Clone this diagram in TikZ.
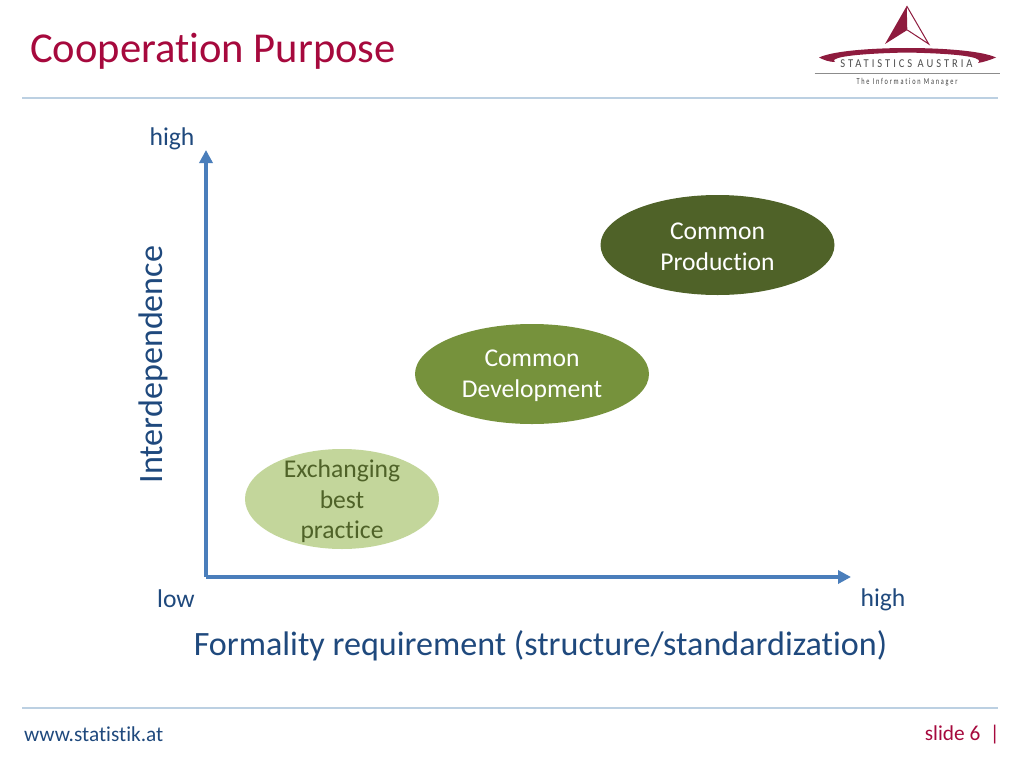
\documentclass[tikz,border=0pt]{standalone}
\usepackage{fontspec}
\setmainfont[Ligatures=NoCommon]{Carlito}
\newfontfamily\logofont[LetterSpace=28,Ligatures=NoCommon]{Carlito}
\usetikzlibrary{shapes.geometric,arrows.meta}
\definecolor{titlered}{HTML}{A6093D}
\definecolor{logored}{HTML}{8E1B3E}
\definecolor{ruleblue}{HTML}{BCD0E2}
\definecolor{axisblue}{HTML}{4A7EBB}
\definecolor{textblue}{HTML}{1F497D}
\definecolor{lightgreen}{HTML}{C3D69B}
\definecolor{midgreen}{HTML}{76923C}
\definecolor{darkgreen}{HTML}{4F6228}
\newcommand{\fsz}[1]{\fontsize{#1}{#1}\selectfont}
\tikzset{
  blob/.style={ellipse,inner sep=0pt,minimum width=234pt,minimum height=100pt,align=center,font=\fontsize{25.6}{30.5}\selectfont,text height=51pt},
  axislabel/.style={text=textblue,inner sep=0pt,font=\fsz{25.6}},
  axisline/.style={draw=axisblue,line width=4.2pt,-{Triangle[length=13pt,width=13pt]}},
  rulebar/.style={draw=ruleblue,line width=1.6pt}
}
\begin{document}
\begin{tikzpicture}[x=1pt,y=-1pt]
\useasboundingbox (0,0) rectangle (1024,768);
% Title and rules
\node (title) [anchor=west,inner sep=0pt,text=titlered,font=\fsz{42.6}] at (30,51.5) {Cooperation Purpose};
\draw[rulebar] (22,98) -- (998,98);
\draw[rulebar] (22,708) -- (998,708);

% Logo
\fill[logored] (906.7,6) -- (885,44) -- (907.3,30) -- cycle;
\draw[logored,line width=1pt,line join=miter] (906.7,6) -- (928.7,44) -- (907.3,30);
\fill[logored] (819,57.5) .. controls (835,50) and (880,48) .. (907,48)
  .. controls (935,48) and (980,50) .. (996,57.5)
  .. controls (990,60) and (984,62) .. (978,63)
  .. controls (983,59) and (975,54) .. (907,52.5)
  .. controls (840,54) and (830,59) .. (835,62)
  .. controls (829,62) and (824,60) .. (819,57.5) -- cycle;
\node (logoname) [inner sep=0pt,text=black!70,xscale=0.88,font=\logofont\fsz{12}] at (906.5,64) {STATISTICS AUSTRIA};
\draw[black!45,line width=0.7pt] (814.7,73.5) -- (1000,73.5);
\node (logoclaim) [inner sep=0pt,text=black!75,xscale=0.7,font=\logofont\fsz{9}] at (907,82) {The Information Manager};

% Axes
\coordinate (origin) at (206,577);
\coordinate (ytip) at (206,150);
\coordinate (xtip) at (851,577);
\draw[axisline] (origin) -- (ytip);
\draw[axisline] (origin) -- (xtip);
\node (yhigh) [axislabel] at (172,138.5) {high};
\node (ylow) [axislabel] at (176,598.5) {low};
\node (xhigh) [axislabel] at (883,599.5) {high};
\node (ytitle) [axislabel,rotate=90,font=\fsz{34.1}] at (153,364.5) {Interdependence};
\node (xtitle) [axislabel,font=\fsz{34.1}] at (540.5,645.5) {Formality requirement (structure/standardization)};

% Ellipses
\node (exchange) [blob,fill=lightgreen,text=darkgreen,minimum width=194pt,inner ysep=-10pt,text height=84pt] at (342,499) {Exchanging\\best\\practice};
\node (develop) [blob,fill=midgreen,text=white] at (532,374) {Common\\Development};
\node (produce) [blob,fill=darkgreen,text=white] at (717.5,245) {Common\\Production};

% Footer
\node (web) [anchor=west,inner sep=0pt,text=textblue,font=\fsz{21.3}] at (24,734.5) {www.statistik.at};
\node (slide) [anchor=east,inner sep=0pt,text=titlered,font=\fsz{21.3}] at (1000,734.5) {slide 6~~|};
\end{tikzpicture}
\end{document}
